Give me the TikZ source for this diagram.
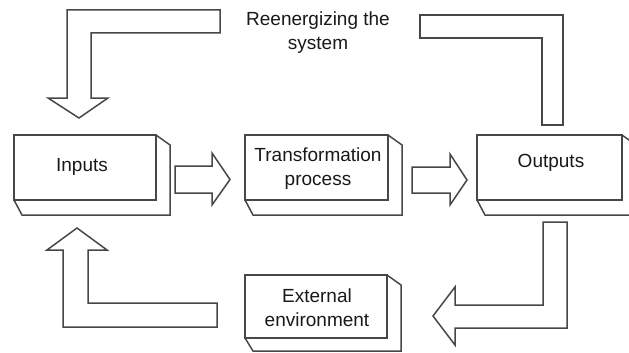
\documentclass[tikz,border=0pt]{standalone}
\usepackage{fontspec}
\setmainfont{Liberation Sans}
\begin{document}
\begin{tikzpicture}[x=1pt,y=-1pt,
  box/.style={draw=black!72,line width=1.5pt,fill=white,line join=miter},
  blockarrow/.style={draw=black!72,line width=1.5pt,fill=white,line join=miter},
  lbl/.style={font=\fontsize{19}{24}\selectfont,text=black!90,align=center,inner sep=0pt}]
\useasboundingbox (0,0) rectangle (629,353);
\clip (0,0) rectangle (629,353);
\newcommand{\slab}[5]{%
  \draw[box] (#3,#2) -- (#3+14,#2+10) -- (#3+14,#4+#5) -- (#1+8,#4+#5) -- (#1,#4) -- cycle;
  \draw[box] (#1,#2) rectangle (#3,#4);
}
% boxes
\slab{14}{135}{156}{200}{15}
\slab{245}{135}{388}{200}{15}
\slab{477}{135}{622}{200}{15}
\slab{245}{275}{387}{338}{13}
% labels
\node[lbl] (inputs) at (82,167) {Inputs};
\node[lbl] (transf) at (318,169) {Transformation\\process};
\node[lbl] (outputs) at (551,163) {Outputs};
\node[lbl] (env) at (317,308) {External\\environment};
\node[lbl] (reen) at (318,33) {Reenergizing the\\system};
% arrow Inputs -> Transformation
\draw[blockarrow] (175,166) -- (212,166) -- (212,153) -- (230,179.5) -- (212,205) -- (212,193) -- (175,193) -- cycle;
% arrow Transformation -> Outputs
\draw[blockarrow] (412,167) -- (450,167) -- (450,154) -- (467,180) -- (450,205) -- (450,193) -- (412,193) -- cycle;
% top-left L arrow down to Inputs
\draw[blockarrow] (67,98) -- (67,10) -- (220,10) -- (220,33) -- (91,33) -- (91,98) -- (108,98) -- (79,118) -- (48,98) -- cycle;
% top-right L bar from Outputs
\draw[blockarrow] (542,125) -- (542,38) -- (420,38) -- (420,15) -- (563,15) -- (563,125) -- cycle;
% bottom-right L arrow Outputs -> External environment
\draw[blockarrow] (543,222) -- (567,222) -- (567,328) -- (455,328) -- (455,345) -- (433,316) -- (455,287) -- (455,305) -- (543,305) -- cycle;
% bottom-left L arrow External environment -> Inputs
\draw[blockarrow] (217,303) -- (88,303) -- (88,250) -- (107,250) -- (77,228) -- (47,250) -- (63,250) -- (63,327) -- (217,327) -- cycle;
\end{tikzpicture}
\end{document}
